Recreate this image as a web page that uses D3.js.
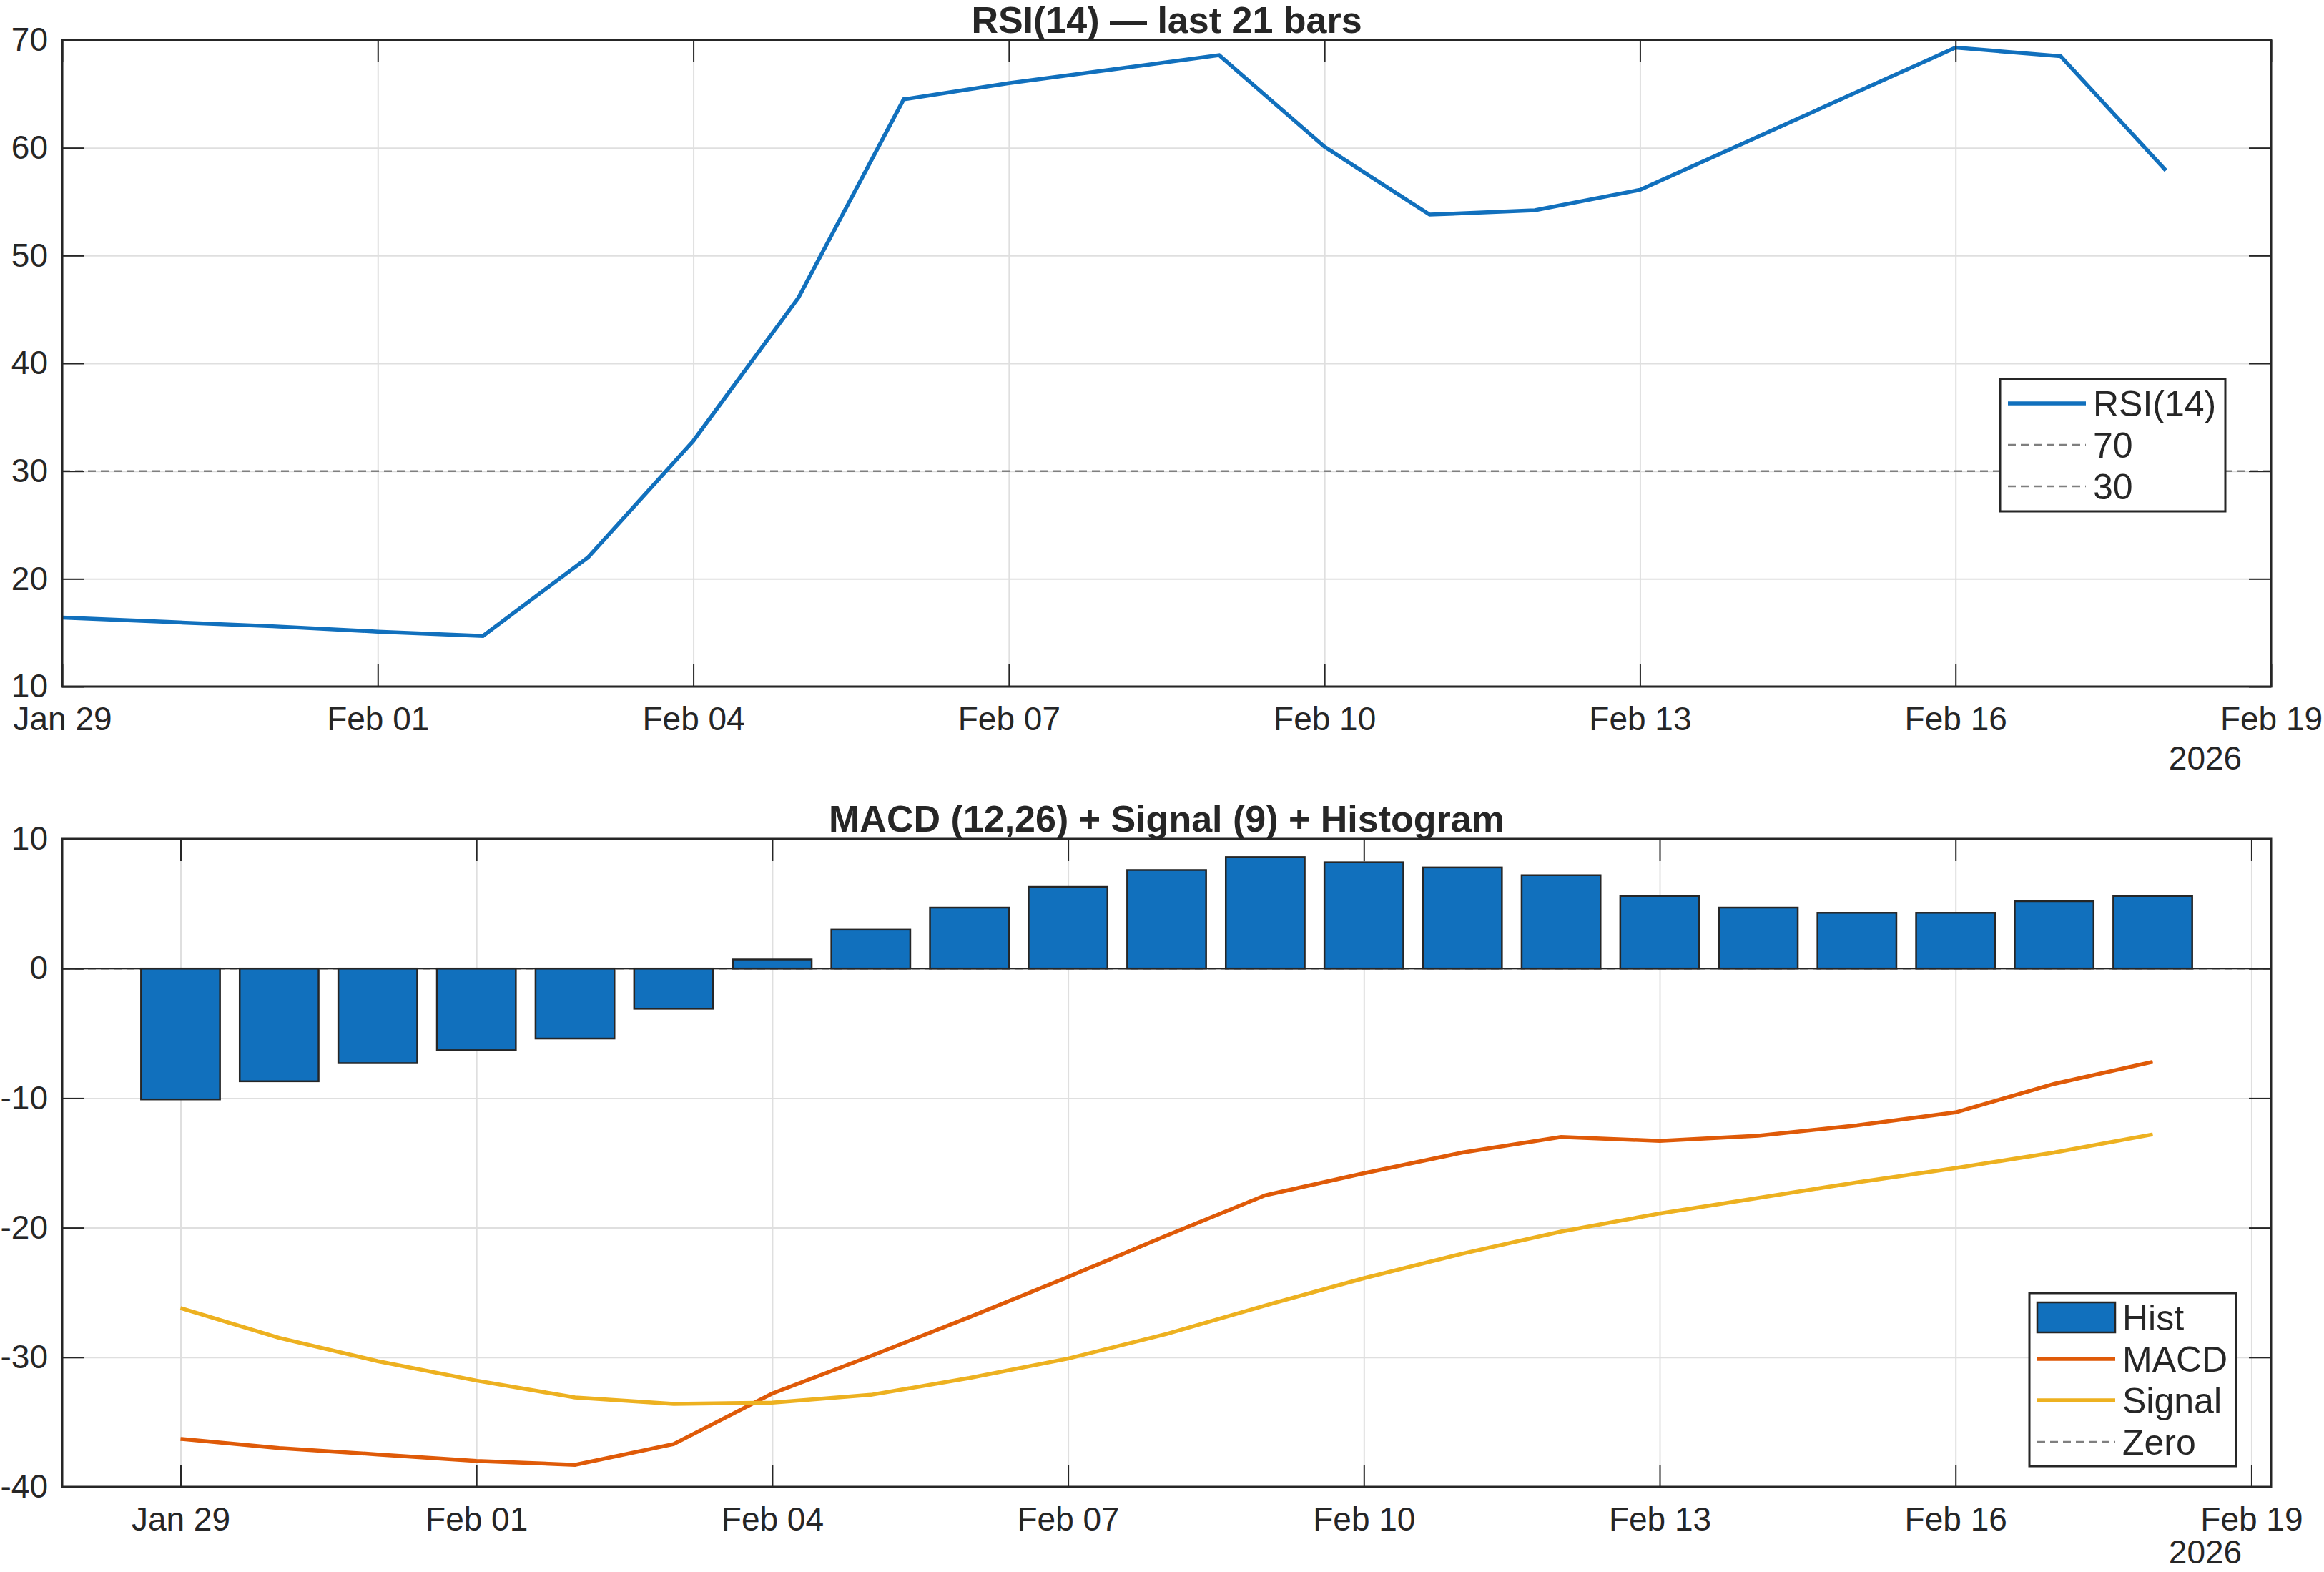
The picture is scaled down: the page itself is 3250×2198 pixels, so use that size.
<!DOCTYPE html>
<html>
<head>
<meta charset="utf-8">
<script src="https://cdn.jsdelivr.net/npm/d3@7"></script>
<style>
  body { margin: 0; background: #fff; }
  svg { display: block; }
</style>
</head>
<body>
<div id="chart"></div>
<script>
// one date per bar, the 21 last bars
var dates = ["2026-01-29","2026-01-30","2026-01-31","2026-02-01","2026-02-02","2026-02-03","2026-02-04",
             "2026-02-05","2026-02-06","2026-02-07","2026-02-08","2026-02-09","2026-02-10","2026-02-11",
             "2026-02-12","2026-02-13","2026-02-14","2026-02-15","2026-02-16","2026-02-17","2026-02-18"];

var rsi = [16.4, 16.0, 15.6, 15.1, 14.7, 22.0, 32.8, 46.1, 64.5, 66.0, 67.3,
           68.6, 60.1, 53.8, 54.2, 56.1, 60.5, 64.9, 69.3, 68.5, 57.9];

var hist = [-10.1, -8.7, -7.3, -6.3, -5.4, -3.1, 0.7, 3.0, 4.7, 6.3, 7.6,
            8.6, 8.2, 7.8, 7.2, 5.6, 4.7, 4.3, 4.3, 5.2, 5.6];
var macd = [-36.3, -37.0, -37.5, -38.0, -38.3, -36.7, -32.8, -29.9, -26.9, -23.8, -20.6,
            -17.5, -15.8, -14.2, -13.0, -13.3, -12.9, -12.1, -11.1, -8.9, -7.2];
var signal = [-26.2, -28.5, -30.3, -31.8, -33.1, -33.6, -33.5, -32.9, -31.6, -30.1, -28.2,
              -26.0, -23.9, -22.0, -20.3, -18.9, -17.7, -16.5, -15.4, -14.2, -12.8];

var dateTicks = ["2026-01-29","2026-02-01","2026-02-04","2026-02-07","2026-02-10","2026-02-13","2026-02-16","2026-02-19"];
var rsiTicks = [10, 20, 30, 40, 50, 60, 70];
var macdTicks = [-40, -30, -20, -10, 0, 10];
var rsiLevels = [70, 30];

var W = 3250, H = 2198;
var DAY = 864e5;
var blue = "#1170bd", orange = "#df5a08", yellow = "#edb120", ink = "#262626";
var tickFont = 46, legFont = 50, titleFont = 52;

var parse = d3.utcParse("%Y-%m-%d");
var fmt = d3.utcFormat("%b %d");
var days = dates.map(parse);
var tickDates = dateTicks.map(parse);

var svg = d3.select("#chart").append("svg")
  .attr("width", W).attr("height", H)
  .style("font-family", "'Liberation Sans', Arial, Helvetica, sans-serif");

var left = 87, right = 3176;

function frame(top, bottom, x, y, yTicks, title) {
  var g = svg.append("g");
  var h = bottom - top, w = right - left;
  var xt = tickDates.filter(function(d){ var p = x(d); return p >= left - 0.5 && p <= right + 0.5; });

  // grid
  g.append("g").attr("transform", "translate(0," + bottom + ")")
    .call(d3.axisBottom(x).tickValues(xt).tickSize(-h).tickFormat(""))
    .call(function(s){ s.select(".domain").remove(); s.selectAll("line").attr("stroke", "#dfdfdf").attr("stroke-width", 2); });
  g.append("g").attr("transform", "translate(" + left + ",0)")
    .call(d3.axisLeft(y).tickValues(yTicks).tickSize(-w).tickFormat(""))
    .call(function(s){ s.select(".domain").remove(); s.selectAll("line").attr("stroke", "#dfdfdf").attr("stroke-width", 2); });

  var marks = svg.append("g").attr("class", "marks");

  var ax = svg.append("g");
  function style(s) {
    s.select(".domain").remove();
    s.selectAll("line").attr("stroke", ink).attr("stroke-width", 2);
    s.selectAll("text").attr("fill", ink).style("font-size", tickFont + "px").style("font-family", null);
  }
  ax.append("g").attr("transform", "translate(0," + bottom + ")")
    .call(d3.axisBottom(x).tickValues(xt).tickSize(-31).tickSizeOuter(0).tickPadding(28).tickFormat(fmt)).call(style);
  ax.append("g").attr("transform", "translate(0," + top + ")")
    .call(d3.axisTop(x).tickValues(xt).tickSize(-31).tickSizeOuter(0).tickFormat("")).call(style);
  ax.append("g").attr("transform", "translate(" + left + ",0)")
    .call(d3.axisLeft(y).tickValues(yTicks).tickSize(-31).tickSizeOuter(0).tickPadding(20)
      .tickFormat(function(d){ return String(d); })).call(style);
  ax.append("g").attr("transform", "translate(" + right + ",0)")
    .call(d3.axisRight(y).tickValues(yTicks).tickSize(-31).tickSizeOuter(0).tickFormat("")).call(style);

  ax.append("rect")
    .attr("x", left).attr("y", top).attr("width", w).attr("height", h)
    .attr("fill", "none").attr("stroke", ink).attr("stroke-width", 3);

  ax.append("text")
    .attr("x", 3084).attr("y", Math.min(bottom + 116, H - 12))
    .attr("text-anchor", "middle").attr("fill", ink)
    .style("font-size", tickFont + "px").text("2026");

  ax.append("text")
    .attr("x", (left + right) / 2).attr("y", top - 10)
    .attr("text-anchor", "middle").attr("fill", ink)
    .style("font-size", titleFont + "px").style("font-weight", "bold")
    .text(title);

  return {marks: marks, ax: ax};
}

function legend(x0, y0, w, h, rows) {
  var lg = svg.append("g");
  lg.append("rect").attr("x", x0).attr("y", y0).attr("width", w).attr("height", h)
    .attr("fill", "#fff").attr("stroke", ink).attr("stroke-width", 3);
  rows.forEach(function(r) {
    if (r.type == "patch") {
      lg.append("rect").attr("x", r.x1).attr("y", r.y - 21).attr("width", r.x2 - r.x1).attr("height", 42)
        .attr("fill", r.color).attr("stroke", ink).attr("stroke-width", 2.5);
    } else {
      lg.append("line").attr("x1", r.x1).attr("x2", r.x2).attr("y1", r.y).attr("y2", r.y)
        .attr("stroke", r.color).attr("stroke-width", r.width)
        .attr("stroke-dasharray", r.dash || null);
    }
    lg.append("text").attr("x", r.tx).attr("y", r.y).attr("dy", "0.36em")
      .attr("fill", ink).style("font-size", legFont + "px").text(r.label);
  });
}

// ---------- RSI panel ----------
var x1 = d3.scaleUtc().domain([parse("2026-01-29"), parse("2026-02-19")]).range([left, right]);
var y1 = d3.scaleLinear().domain([10, 70]).range([960, 56]);
var p1 = frame(56, 960, x1, y1, rsiTicks, "RSI(14) \u2014 last 21 bars");

p1.marks.selectAll(".lvl").data(rsiLevels).enter().append("line")
  .attr("x1", left).attr("x2", right)
  .attr("y1", function(d){ return y1(d); }).attr("y2", function(d){ return y1(d); })
  .attr("stroke", "#7f7f7f").attr("stroke-width", 2.5).attr("stroke-dasharray", "11,7");

p1.marks.append("path")
  .datum(rsi)
  .attr("fill", "none").attr("stroke", blue).attr("stroke-width", 5.5)
  .attr("d", d3.line().x(function(d, i){ return x1(days[i]); }).y(function(d){ return y1(d); }));

legend(2797, 530, 315, 185, [
  {label: "RSI(14)", color: blue, width: 5.5, x1: 2808, x2: 2917, tx: 2927, y: 564},
  {label: "70", color: "#7f7f7f", width: 2.5, dash: "11,7", x1: 2808, x2: 2917, tx: 2927, y: 622},
  {label: "30", color: "#7f7f7f", width: 2.5, dash: "11,7", x1: 2808, x2: 2917, tx: 2927, y: 680}
]);

// ---------- MACD panel ----------
var x2 = d3.scaleUtc()
  .domain([new Date(days[0].getTime() - 1.2 * DAY), new Date(days[days.length - 1].getTime() + 1.2 * DAY)])
  .range([left, right]);
var y2 = d3.scaleLinear().domain([-40, 10]).range([2079, 1173]);
var p2 = frame(1173, 2079, x2, y2, macdTicks, "MACD (12,26) + Signal (9) + Histogram");

var bw = x2(new Date(days[0].getTime() + 0.8 * DAY)) - x2(days[0]);

p2.marks.append("line")
  .attr("x1", left).attr("x2", right).attr("y1", y2(0)).attr("y2", y2(0))
  .attr("stroke", "#7f7f7f").attr("stroke-width", 2.5).attr("stroke-dasharray", "11,7");

p2.marks.selectAll(".bar").data(hist).enter().append("rect")
  .attr("class", "bar")
  .attr("x", function(d, i){ return x2(days[i]) - bw / 2; })
  .attr("y", function(d){ return y2(Math.max(0, d)); })
  .attr("width", bw)
  .attr("height", function(d){ return Math.abs(y2(d) - y2(0)); })
  .attr("fill", blue).attr("stroke", ink).attr("stroke-width", 2.5);

// bar baseline
p2.marks.append("line")
  .attr("x1", left).attr("x2", right).attr("y1", y2(0)).attr("y2", y2(0))
  .attr("stroke", ink).attr("stroke-width", 2);

var line2 = d3.line().x(function(d, i){ return x2(days[i]); }).y(function(d){ return y2(d); });
p2.marks.append("path").datum(macd)
  .attr("fill", "none").attr("stroke", orange).attr("stroke-width", 5.5).attr("d", line2);
p2.marks.append("path").datum(signal)
  .attr("fill", "none").attr("stroke", yellow).attr("stroke-width", 5.5).attr("d", line2);

legend(2838, 1808, 289, 242, [
  {type: "patch", label: "Hist", color: blue, x1: 2849, x2: 2958, tx: 2968, y: 1842},
  {label: "MACD", color: orange, width: 5.5, x1: 2849, x2: 2958, tx: 2968, y: 1900},
  {label: "Signal", color: yellow, width: 5.5, x1: 2849, x2: 2958, tx: 2968, y: 1958},
  {label: "Zero", color: "#7f7f7f", width: 2.5, dash: "11,7", x1: 2849, x2: 2958, tx: 2968, y: 2016}
]);
</script>
</body>
</html>
